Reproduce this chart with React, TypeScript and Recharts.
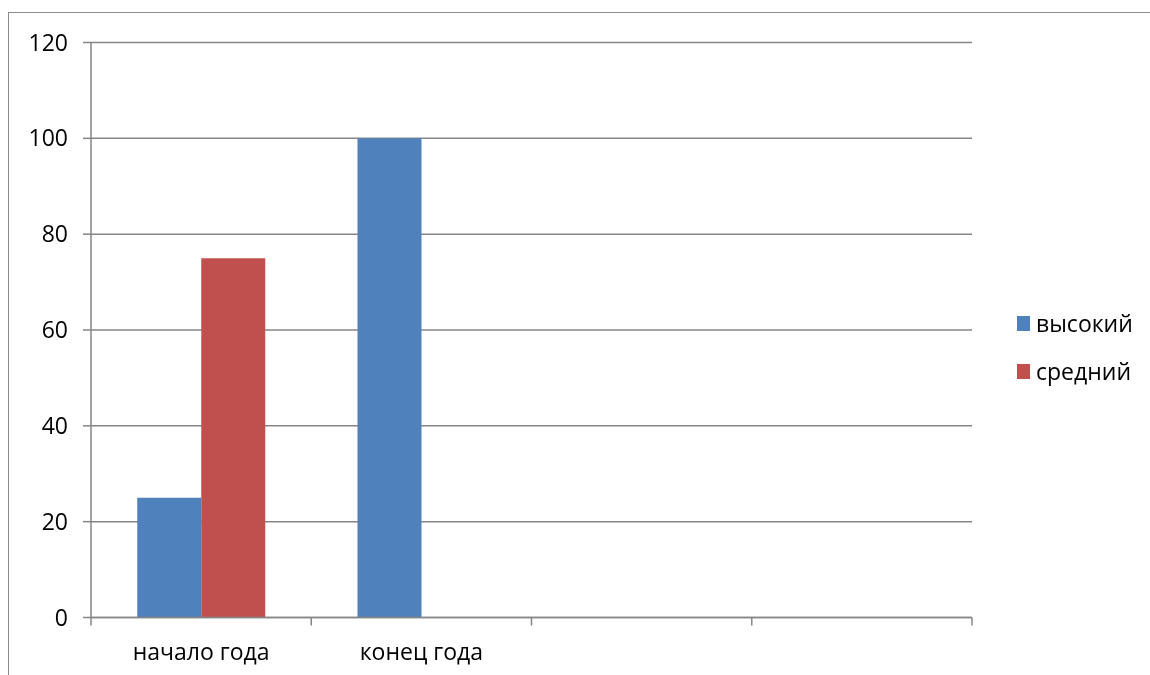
import React from "react";
import { BarChart, Bar, XAxis, YAxis, CartesianGrid, Legend } from "recharts";

const categories = ["начало года", "конец года", "", ""];
const vysokiy = [25, 100, null, null];
const sredniy = [75, 0, null, null];
const yTicks = [0, 20, 40, 60, 80, 100, 120];
const boundaryTicks = [0, 1, 2, 3, 4];

const data = categories.map((c, i) => ({
  name: c,
  idx: i + 0.5,
  high: vysokiy[i],
  mid: sredniy[i],
}));

const FONT = "'Open Sans', 'Liberation Sans', sans-serif";
const AXIS = "#868686";
const FS = 23;

const renderLegend = (props: any) => {
  const { payload } = props;
  return (
    <div style={{ fontFamily: FONT, fontSize: FS, color: "#000" }}>
      {payload.map((p: any, i: number) => (
        <div key={i} style={{ display: "flex", alignItems: "center", height: 48 }}>
          <span style={{ display: "inline-block", width: 13, height: 15, background: p.color, marginRight: 6 }} />
          <span>{p.value}</span>
        </div>
      ))}
    </div>
  );
};

export default function App() {
  return (
    <div style={{ position: "relative", width: 1142, height: 659 }}>
      <style>{`html,body{overflow:hidden}`}</style>
      <div
        style={{
          position: "fixed",
          left: 8,
          top: 12,
          width: 1300,
          height: 800,
          borderLeft: "1.5px solid #8c8c8c",
          borderTop: "1.5px solid #8c8c8c",
          boxSizing: "border-box",
        }}
      />
      <div style={{ position: "absolute", left: 0, top: 0 }}>
        <BarChart
          width={1142}
          height={659}
          data={data}
          margin={{ top: 34.5, right: 48, bottom: 0, left: 0 }}
          barCategoryGap="21%"
          barGap={0}
        >
          <CartesianGrid vertical={false} stroke={AXIS} strokeWidth={1.5} />
          <XAxis
            xAxisId="bnd"
            type="number"
            domain={[0, 4]}
            ticks={boundaryTicks}
            interval={0}
            dataKey="idx"
            axisLine={{ stroke: AXIS, strokeWidth: 1.5 }}
            tickLine={{ stroke: AXIS, strokeWidth: 1.5 }}
            tickSize={8}
            tickFormatter={() => ""}
            tick={{ fontSize: 1 }}
            height={1}
          />
          <XAxis
            dataKey="name"
            xAxisId="cat"
            axisLine={false}
            tickLine={false}
            tickSize={8}
            tickMargin={17}
            tick={{ fill: "#000", fontSize: FS, fontFamily: FONT }}
            interval={0}
            height={48.5}
          />
          <YAxis
            width={83}
            domain={[0, 120]}
            ticks={yTicks}
            interval={0}
            axisLine={{ stroke: AXIS, strokeWidth: 1.5 }}
            tickLine={{ stroke: AXIS, strokeWidth: 1.5 }}
            tickSize={8}
            tickMargin={15}
            tick={{ fill: "#000", fontSize: FS, fontFamily: FONT }}
          />
          <Legend
            layout="horizontal"
            align="right"
            verticalAlign="middle"
            content={renderLegend}
            wrapperStyle={{ left: 1009, top: 291, width: 130 }}
          />
          <Bar dataKey="high" name="высокий" xAxisId="cat" fill="#4F81BD" isAnimationActive={false} />
          <Bar dataKey="mid" name="средний" xAxisId="cat" fill="#C0504D" isAnimationActive={false} />
        </BarChart>
      </div>
    </div>
  );
}
